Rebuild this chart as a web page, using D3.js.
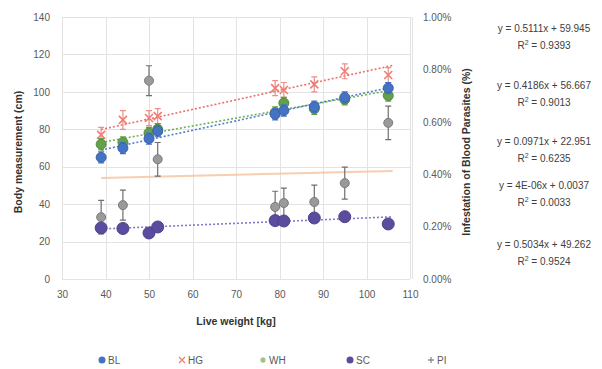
<!DOCTYPE html>
<html>
<head>
<meta charset="utf-8">
<script src="https://cdn.jsdelivr.net/npm/d3@7"></script>
<style>
  html, body { margin: 0; padding: 0; background: #fff; }
  svg { display: block; font-family: "Liberation Sans", Arial, sans-serif; }
</style>
</head>
<body>
<svg id="chart" width="602" height="369"></svg>
<script>
// Live weight of each animal group (kg)
const weights = [39, 44, 50, 52, 79, 81, 88, 95, 105];

// Body measurements (cm) with their standard errors
const BL = [65, 70, 75, 79, 88, 90, 92, 97, 102];
const BLerr = [3, 3, 3, 3, 3, 3, 3, 3, 3];
const HG = [77, 85, 86, 87, 102, 101, 104, 111, 109];
const HGerr = [4, 5, 4, 4, 4, 4, 4, 4, 4];
const WH = [72, 73, 78, 80, 89, 94, 91, 96, 98];
const WHerr = [3, 3, 3, 3, 3, 3, 3, 3, 3];
const SC = [27.3, 27, 24.6, 27.8, 31.2, 31, 32.6, 33.3, 29.4];
const SCerr = [1.5, 1.5, 1.5, 1.5, 1.5, 1.5, 1.5, 1.5, 1.5];

// Infestation of blood parasites (%), right axis
const PI = [0.236, 0.282, 0.757, 0.457, 0.275, 0.29, 0.294, 0.366, 0.596];
const PIerr = [0.064, 0.057, 0.057, 0.064, 0.06, 0.057, 0.064, 0.061, 0.064];

// Linear trendlines: slope, intercept, R², label text
const trendNames = ["HG", "WH", "SC", "PI", "BL"];
const trendSlopes = [0.5111, 0.4186, 0.0971, 4e-6, 0.5034];
const trendIntercepts = [59.945, 56.667, 22.951, 0.0037, 49.262];
const trendR2 = ["0.9393", "0.9013", "0.6235", "0.0033", "0.9524"];
const trendSlopeText = ["0.5111", "0.4186", "0.0971", "4E-06", "0.5034"];
const trendInterceptText = ["59.945", "56.667", "22.951", "0.0037", "49.262"];

const xTicks = [30, 40, 50, 60, 70, 80, 90, 100, 110];
const yTicks = [0, 20, 40, 60, 80, 100, 120, 140];
const y2Ticks = [0, 0.2, 0.4, 0.6, 0.8, 1.0];

const colors = { BL: "#4472C4", HG: "#F07C74", WH: "#62A04A", SC: "#5B4C9E", PI: "#8E8E8E" };
const trendColors = { BL: "#4472C4", HG: "#E8605A", WH: "#5DAA45", SC: "#7A66C8", PI: "#F6C29C" };

const svg = d3.select("#chart");
const plotL = 62, plotR = 410, plotT = 17, plotB = 279;

const x = d3.scaleLinear().domain([30, 110]).range([plotL, plotR]);
const y = d3.scaleLinear().domain([0, 140]).range([plotB, plotT]);
const y2 = d3.scaleLinear().domain([0, 1.0]).range([plotB, plotT]);

// Gridlines
const grid = svg.append("g").attr("stroke", "#e3e3e3").attr("stroke-width", 1);
grid.selectAll(".gy").data(yTicks).join("line")
  .attr("x1", plotL).attr("x2", plotR)
  .attr("y1", d => Math.round(y(d)) + 0.5).attr("y2", d => Math.round(y(d)) + 0.5);
grid.selectAll(".gx").data(xTicks).join("line")
  .attr("y1", plotT).attr("y2", plotB)
  .attr("x1", d => Math.round(x(d)) + 0.5).attr("x2", d => Math.round(x(d)) + 0.5);

// Axes (labels only)
const axisL = svg.append("g").attr("transform", `translate(${plotL - 8},0)`)
  .call(d3.axisLeft(y).tickValues(yTicks).tickSize(0).tickPadding(4));
const axisB = svg.append("g").attr("transform", `translate(0,${plotB + 6})`)
  .call(d3.axisBottom(x).tickValues(xTicks).tickSize(0).tickPadding(6));
const axisR = svg.append("g").attr("transform", `translate(${plotR + 9},0)`)
  .call(d3.axisRight(y2).tickValues(y2Ticks).tickSize(0).tickPadding(4)
    .tickFormat(d => d.toFixed(2) + "%"));
[axisL, axisB, axisR].forEach(a => {
  a.select(".domain").remove();
  a.selectAll("text").attr("fill", "#595959").style("font-size", "10px")
    .style("font-family", "'Liberation Sans', Arial, sans-serif");
});
svg.append("line").attr("x1", plotR + 2.5).attr("x2", plotR + 2.5)
  .attr("y1", plotT).attr("y2", plotB).attr("stroke", "#e3e3e3");

// Axis titles
svg.append("text").attr("transform", `translate(22,${(plotT + plotB) / 2 + 4}) rotate(-90)`)
  .attr("text-anchor", "middle").attr("font-size", "10.5px").attr("font-weight", "bold")
  .attr("fill", "#333").text("Body measurement (cm)");
svg.append("text").attr("transform", `translate(470,${(plotT + plotB) / 2 + 4}) rotate(-90)`)
  .attr("text-anchor", "middle").attr("font-size", "10.5px").attr("font-weight", "bold")
  .attr("fill", "#333").text("Infestation of Blood Parasites (%)");
svg.append("text").attr("x", (plotL + plotR) / 2).attr("y", 325)
  .attr("text-anchor", "middle").attr("font-size", "10.5px").attr("font-weight", "bold")
  .attr("fill", "#333").text("Live weight [kg]");

// Trendlines over the weight range
const xMin = d3.min(weights), xMax = d3.max(weights) + 1;
const trendLayer = svg.append("g");
trendNames.forEach((name, i) => {
  const f = w => trendSlopes[i] * w + trendIntercepts[i];
  const ys = name === "PI" ? (w => y2(f(w) * 100)) : (w => y(f(w)));
  trendLayer.append("line")
    .attr("x1", x(xMin)).attr("x2", x(xMax))
    .attr("y1", ys(xMin)).attr("y2", ys(xMax))
    .attr("stroke", trendColors[name])
    .attr("stroke-width", name === "PI" ? 2 : 1.6)
    .attr("stroke-dasharray", name === "PI" ? null : "2,2")
    .attr("opacity", name === "PI" ? 0.8 : 0.9);
});

// Error bars and markers
const series = [
  { name: "PI", vals: PI, err: PIerr, scale: y2, shape: "pi" },
  { name: "HG", vals: HG, err: HGerr, scale: y, shape: "x" },
  { name: "WH", vals: WH, err: WHerr, scale: y, shape: "circle" },
  { name: "BL", vals: BL, err: BLerr, scale: y, shape: "circle" },
  { name: "SC", vals: SC, err: SCerr, scale: y, shape: "circle" }
];

series.forEach(s => {
  const g = svg.append("g");
  const pts = weights.map((w, i) => ({ w, v: s.vals[i], e: s.err[i] }));
  const ec = s.name === "PI" ? "#6f6f6f" : s.name === "HG" ? "#E8908A" : colors[s.name];
  g.selectAll(".eb").data(pts).join("path")
    .attr("d", d => {
      const cx = x(d.w), y1 = s.scale(d.v + d.e), y0 = s.scale(d.v - d.e);
      return `M${cx},${y1}V${y0}M${cx - 3},${y1}H${cx + 3}M${cx - 3},${y0}H${cx + 3}`;
    })
    .attr("stroke", ec).attr("stroke-width", 1.2).attr("fill", "none");
  if (s.shape === "circle") {
    g.selectAll(".m").data(pts).join("circle")
      .attr("cx", d => x(d.w)).attr("cy", d => s.scale(d.v))
      .attr("r", s.name === "SC" ? 6 : 5)
      .attr("fill", colors[s.name]).attr("stroke", d3.color(colors[s.name]).darker(0.4))
      .attr("stroke-width", 1);
  } else if (s.shape === "x") {
    g.selectAll(".m").data(pts).join("path")
      .attr("transform", d => `translate(${x(d.w)},${s.scale(d.v)})`)
      .attr("d", "M-4,-4L4,4M-4,4L4,-4")
      .attr("stroke", colors.HG).attr("stroke-width", 1.6);
  } else {
    g.selectAll(".m").data(pts).join("circle")
      .attr("cx", d => x(d.w)).attr("cy", d => s.scale(d.v))
      .attr("r", 4.5).attr("fill", "#9a9a9a").attr("stroke", "#7a7a7a");
  }
});

// Trendline equations
const eqY = [32, 89, 145, 189, 248];
trendNames.forEach((name, i) => {
  svg.append("text").attr("x", 544).attr("y", eqY[i]).attr("text-anchor", "middle")
    .attr("font-size", "10px").attr("fill", "#404040")
    .text(`y = ${trendSlopeText[i]}x + ${trendInterceptText[i]}`);
  const r = svg.append("text").attr("x", 544).attr("y", eqY[i] + 17).attr("text-anchor", "middle")
    .attr("font-size", "10px").attr("fill", "#404040");
  r.append("tspan").text("R");
  r.append("tspan").attr("dy", -4).attr("font-size", "7px").text("2");
  r.append("tspan").attr("dy", 4).text(` = ${trendR2[i]}`);
});

// Legend
const legendItems = [
  { name: "BL", x: 102 }, { name: "HG", x: 182 }, { name: "WH", x: 263 },
  { name: "SC", x: 350 }, { name: "PI", x: 431 }
];
const lg = svg.append("g");
legendItems.forEach(it => {
  const cy = 360;
  if (it.name === "HG") {
    lg.append("path").attr("transform", `translate(${it.x},${cy})`)
      .attr("d", "M-3,-3L3,3M-3,3L3,-3").attr("stroke", colors.HG).attr("stroke-width", 1.3);
  } else if (it.name === "PI") {
    lg.append("path").attr("transform", `translate(${it.x},${cy})`)
      .attr("d", "M-3,0H3M0,-3V3").attr("stroke", colors.PI).attr("stroke-width", 1.3);
  } else if (it.name === "WH") {
    lg.append("path").attr("transform", `translate(${it.x},${cy})`)
      .attr("d", "M-3,0H3M0,-3V3M-2,-2L2,2M-2,2L2,-2").attr("stroke", "#9CC27A").attr("stroke-width", 1.2);
  } else {
    lg.append("circle").attr("cx", it.x).attr("cy", cy).attr("r", 3.5).attr("fill", colors[it.name]);
  }
  lg.append("text").attr("x", it.x + 6).attr("y", cy + 3.5).attr("font-size", "10px")
    .attr("fill", "#595959").text(it.name);
});
</script>
</body>
</html>
